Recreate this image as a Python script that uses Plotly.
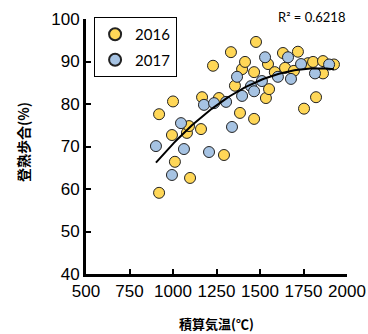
import numpy as np
import plotly.graph_objects as go

# 2016 data (積算気温, 登熟歩合)
x2016 = [920, 920, 994, 1000, 1011, 1080, 1092, 1098, 1161, 1167, 1230, 1264, 1293,
         1333, 1356, 1385, 1397, 1414, 1466, 1466, 1477, 1534, 1546, 1552, 1585,
         1632, 1644, 1695, 1718, 1753, 1776, 1805, 1822, 1862, 1862, 1925]
y2016 = [59.1, 77.6, 72.7, 80.6, 66.4, 73.2, 74.8, 62.6, 74.1, 81.6, 89.0, 81.4, 68.0,
         92.2, 84.3, 77.9, 88.2, 89.9, 76.5, 87.5, 94.6, 81.4, 89.4, 83.5, 87.5,
         92.0, 88.5, 87.8, 92.3, 78.9, 89.6, 89.9, 81.6, 90.1, 87.2, 89.3]

# 2017 data
x2017 = [902, 994, 1046, 1063, 1178, 1207, 1236, 1305, 1339, 1368, 1397, 1448, 1466,
         1511, 1529, 1603, 1661, 1678, 1736, 1816, 1897]
y2017 = [70.1, 63.3, 75.5, 69.4, 79.8, 68.7, 80.2, 80.5, 74.6, 86.4, 81.9, 84.2, 83.0,
         85.4, 91.0, 86.4, 91.0, 85.9, 89.4, 87.2, 89.3]

xticks = [500, 750, 1000, 1250, 1500, 1750, 2000]
yticks = [40, 50, 60, 70, 80, 90, 100]
r2_text = "R² = 0.6218"
x_title = "<b>積算気温(℃)</b>"
y_title = "<b>登熟歩合(%)</b>"

# quadratic trend line over combined data
xa = np.array(x2016 + x2017, dtype=float)
ya = np.array(y2016 + y2017, dtype=float)
coef = np.polyfit(xa, ya, 2)
xt = np.linspace(xa.min(), xa.max(), 100)
yt = np.polyval(coef, xt)

yellow = "#FFD757"
blue = "#A6C3E3"

fig = go.Figure()
fig.add_trace(go.Scatter(x=x2016, y=y2016, mode="markers", name="2016",
                         legendgroup="a",
                         marker=dict(size=11, color=yellow,
                                     line=dict(color="#222222", width=1))))
fig.add_trace(go.Scatter(x=x2017, y=y2017, mode="markers", name="2017",
                         legendgroup="b",
                         marker=dict(size=11, color=blue,
                                     line=dict(color="#222222", width=1))))
fig.add_trace(go.Scatter(x=xt, y=yt, mode="lines", showlegend=False,
                         line=dict(color="black", width=2)))

fig.update_layout(
    width=368, height=334,
    margin=dict(l=86, r=21, t=19, b=60, autoexpand=False),
    paper_bgcolor="white", plot_bgcolor="white",
    font=dict(family="Liberation Sans, Arial, sans-serif", color="black"),
    showlegend=True,
    legend=dict(x=0.031, y=1.008, xanchor="left", yanchor="top",
                bordercolor="black", borderwidth=1, bgcolor="white",
                font=dict(family="Lato, Carlito, sans-serif", size=15),
                tracegroupgap=3, itemsizing="constant", itemwidth=30),
    xaxis=dict(range=[500, 2000], tickvals=xticks, ticktext=[str(v) for v in xticks],
               showline=True, linecolor="black", linewidth=3,
               ticks="inside", ticklen=5, tickwidth=2, tickcolor="black",
               showgrid=False, zeroline=False, automargin=False,
               tickfont=dict(size=17)),
    yaxis=dict(range=[40, 100], tickvals=yticks, ticktext=[str(v) for v in yticks],
               showline=True, linecolor="black", linewidth=3,
               ticks="inside", ticklen=5, tickwidth=2, tickcolor="black",
               showgrid=False, zeroline=False, automargin=False,
               tickfont=dict(size=17)),
)

fig.add_annotation(x=1.0, y=1.0, xref="paper", yref="paper",
                   xanchor="right", yanchor="bottom", yshift=-8,
                   text=r2_text, showarrow=False,
                   font=dict(size=13, family="Lato, Carlito, sans-serif"))
# axis titles
fig.add_annotation(x=216, y=334 - 323, xref="x domain", yref="paper",
                   text=x_title, showarrow=False,
                   font=dict(size=13, family="Noto Sans CJK JP"))
fig.update_annotations()
fig.layout.annotations[1].update(x=(216 - 86) / 261, xref="paper",
                                 y=-(323 - 274) / 255, yref="paper",
                                 xanchor="center", yanchor="middle")
fig.add_annotation(x=-(86 - 23) / 261, y=(274 - 142) / 255, xref="paper", yref="paper",
                   xanchor="center", yanchor="middle", textangle=-90,
                   text=y_title, showarrow=False,
                   font=dict(size=14, family="Noto Sans CJK JP"))

fig.write_html("out.html")
